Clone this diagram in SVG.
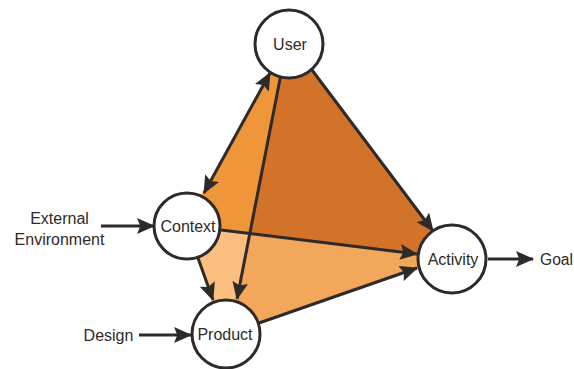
<svg xmlns="http://www.w3.org/2000/svg" width="574" height="369" viewBox="0 0 574 369">
<style>
.node circle{fill:#ffffff;stroke:#2e2a29;stroke-width:3}
text{font-family:"Liberation Sans",Arial,sans-serif;font-size:16px;fill:#2e2a29}
.lbl{text-anchor:middle}
.conn line{stroke:#2e2a29;stroke-width:3;fill:none}
</style>
<defs>
<marker id="ah" markerUnits="userSpaceOnUse" markerWidth="18" markerHeight="16" viewBox="0 0 17 15" refX="16" refY="7.5" orient="auto-start-reverse">
<path d="M0,0 L17,7.5 L0,15 L3,7.5 z" fill="#2e2a29"/>
</marker>
</defs>
<g id="faces">
<polygon points="273,67 282,66 249,233 205,228 197,203" fill="#f0963a"/>
<polygon points="282,66 305,61 440,240 430,255 249,233" fill="#d3732a"/>
<polygon points="205,228 249,233 236,306 215,305 194,247" fill="#fdbf80"/>
<polygon points="249,233 430,255 430,263.5 250,326 236,306" fill="#f3a75a"/>
</g>
<g id="connectors" class="conn">
<line x1="204" y1="193" x2="270" y2="73" marker-start="url(#ah)" marker-end="url(#ah)"/>
<line x1="281" y1="74" x2="237" y2="299" marker-end="url(#ah)"/>
<line x1="198" y1="258" x2="213" y2="300" marker-end="url(#ah)"/>
<line x1="312" y1="70" x2="433" y2="231" marker-end="url(#ah)"/>
<line x1="221" y1="230" x2="417" y2="254" marker-end="url(#ah)"/>
<line x1="259" y1="323" x2="417" y2="268" marker-end="url(#ah)"/>
<line x1="101" y1="226" x2="154" y2="226" marker-end="url(#ah)"/>
<line x1="139" y1="335" x2="191" y2="335" marker-end="url(#ah)"/>
<line x1="488" y1="259" x2="533" y2="259" marker-end="url(#ah)"/>
</g>
<g id="user" class="node"><circle cx="289" cy="44" r="34"/><text class="lbl" x="290" y="50">User</text></g>
<g id="context" class="node"><circle cx="187" cy="226" r="33"/><text class="lbl" x="188" y="232">Context</text></g>
<g id="product" class="node"><circle cx="226" cy="334" r="34"/><text class="lbl" x="225" y="340">Product</text></g>
<g id="activity" class="node"><circle cx="452" cy="259" r="34"/><text class="lbl" x="453" y="265">Activity</text></g>
<g id="external"><text class="lbl" x="59.5" y="224">External</text><text class="lbl" x="59.5" y="245">Environment</text></g>
<g id="design"><text class="lbl" x="108.5" y="341">Design</text></g>
<g id="goal"><text x="540" y="265" textLength="33" lengthAdjust="spacingAndGlyphs">Goal</text></g>
</svg>
